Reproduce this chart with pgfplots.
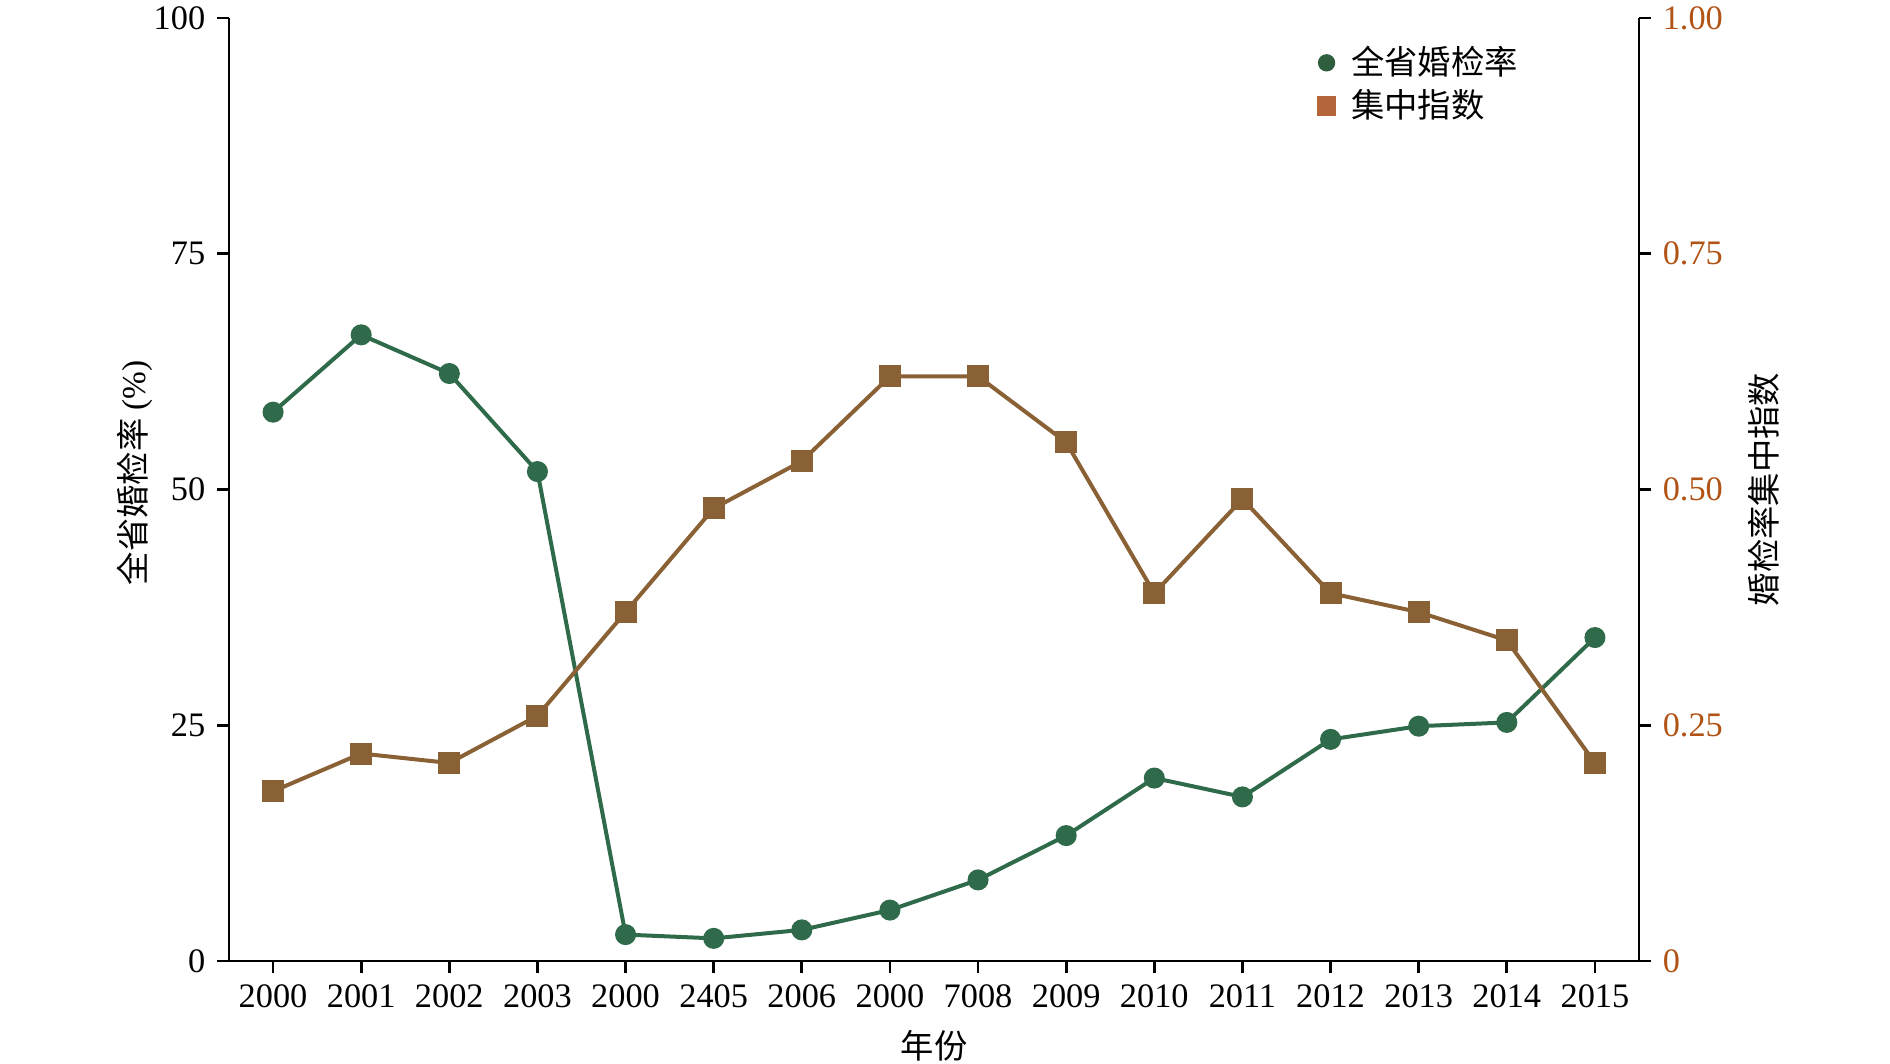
\documentclass[border=0pt]{standalone}
\usepackage{pgfplots}
\pgfplotsset{compat=1.18}
\usepackage{fontspec}
\setmainfont{Liberation Serif}
\newfontfamily\cjk{Noto Sans CJK SC}

\definecolor{gline}{RGB}{47,107,74}
\definecolor{bline}{RGB}{138,96,53}
\definecolor{glegend}{RGB}{46,94,62}
\definecolor{blegend}{RGB}{181,101,58}
\definecolor{rtick}{RGB}{176,83,20}

\begin{document}
\begin{tikzpicture}
\pgfplotsset{
  common/.style={
    scale only axis,
    width=423pt, height=282.9pt,
    xmin=-0.5, xmax=15.5,
    tick align=outside,
    major tick length=3.6pt,
    axis line style={line width=0.8pt, black},
    major tick style={line width=0.8pt, black},
    tick label style={font=\fontsize{10.3}{12}\selectfont},
  }
}
\begin{axis}[
    common,
    name=main,
    axis x line*=bottom,
    axis y line*=left,
    ymin=0, ymax=100,
    xtick={0,1,...,15},
    xticklabels={2000,2001,2002,2003,2000,2405,2006,2000,7008,2009,2010,2011,2012,2013,2014,2015},
    ytick={0,25,50,75,100},
    yticklabels={0,25,50,75,100},
    xlabel={\cjk 年份},
    ylabel={\cjk 全省婚检率\rm\ (\%)},
    every axis x label/.style={at={(rel axis cs:0.5,0)}, yshift=-25.5pt, anchor=center, font=\fontsize{10}{12}\selectfont},
    every axis y label/.style={at={(rel axis cs:0,0.5)}, xshift=-28.2pt, yshift=5pt, rotate=90, anchor=center, font=\fontsize{10}{12}\selectfont},
]
\addplot[color=gline, line width=1.2pt, mark=*, mark size=2.55pt, mark options={fill=gline, draw=gline}]
coordinates {
(0,58.2)(1,66.4)(2,62.3)(3,51.9)(4,2.8)(5,2.4)(6,3.3)(7,5.4)
(8,8.6)(9,13.3)(10,19.4)(11,17.4)(12,23.5)(13,24.9)(14,25.3)(15,34.3)
};
\end{axis}

\begin{axis}[
    common,
    axis x line=none,
    axis y line*=right,
    ymin=0, ymax=1,
    ytick={0,0.25,0.5,0.75,1},
    yticklabels={0,0.25,0.50,0.75,1.00},
    yticklabel style={color=rtick},
    ylabel={\cjk 婚检率集中指数},
    every axis y label/.style={at={(rel axis cs:1,0.5)}, xshift=37.5pt, rotate=90, anchor=center, font=\fontsize{10}{12}\selectfont},
    legend style={at={(rel axis cs:0.764,0.985)}, anchor=north west, draw=none, fill=none,
      font=\fontsize{10}{12}\selectfont\cjk, row sep=-1pt,
      legend cell align=left},
    legend image code/.code={\path (0.3cm-2.7pt,0cm) (0.3cm+5.2pt,0cm); \draw[#1] plot coordinates {(0.3cm,0cm)};},
]
\addplot[color=bline, line width=1.2pt, mark=square*, mark size=2.7pt, mark options={fill=bline, draw=bline}, forget plot]
coordinates {
(0,0.18)(1,0.22)(2,0.21)(3,0.26)(4,0.37)(5,0.48)(6,0.53)(7,0.62)
(8,0.62)(9,0.55)(10,0.39)(11,0.49)(12,0.39)(13,0.37)(14,0.34)(15,0.21)
};
\addlegendimage{only marks, mark=*, mark size=2.4pt, color=glegend, fill=glegend}
\addlegendentry{全省婚检率}
\addlegendimage{only marks, mark=square*, mark size=2.7pt, color=blegend, fill=blegend}
\addlegendentry{集中指数}
\end{axis}

\pgfresetboundingbox
\path[use as bounding box] ([shift={(-68.7pt,-30.6pt)}]main.south west) rectangle ([shift={(498.3pt,288.3pt)}]main.south west);
\end{tikzpicture}
\end{document}
